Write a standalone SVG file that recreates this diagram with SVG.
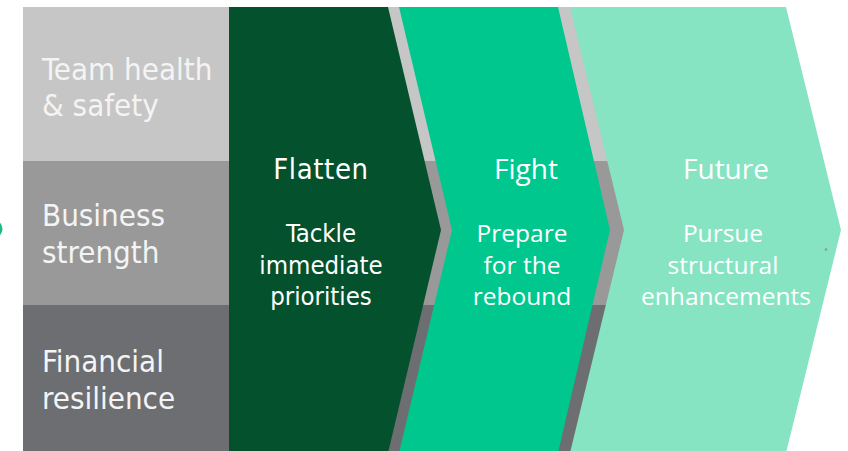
<svg xmlns="http://www.w3.org/2000/svg" width="848" height="451" viewBox="0 0 848 451">
  <style>
    .band-label { font-family: "DejaVu Sans Condensed", "DejaVu Sans", sans-serif; font-stretch: condensed; font-size: 31px; fill: #f4f4f4; }
    .flat-title { font-family: "DejaVu Sans Condensed", "DejaVu Sans", sans-serif; font-stretch: condensed; font-size: 29px; fill: #ffffff; text-anchor: middle; letter-spacing: 0.6px; }
    .flat-body { font-family: "DejaVu Sans Condensed", "DejaVu Sans", sans-serif; font-stretch: condensed; font-size: 25.5px; fill: #ffffff; text-anchor: middle; }
    .stage-title { font-family: "Open Sans", "Noto Sans", sans-serif; font-size: 28px; fill: #ffffff; text-anchor: middle; }
    .stage-body { font-family: "Open Sans", "Noto Sans", sans-serif; font-size: 24.5px; fill: #ffffff; text-anchor: middle; }
  </style>

  <rect width="848" height="451" fill="#ffffff"/>

  <!-- small partial mark at left edge -->
  <circle cx="-7" cy="229" r="9.5" fill="#1fb98c"/>

  <!-- horizontal priority bands -->
  <g id="band-health">
    <rect x="23" y="7" width="737" height="154" fill="#c6c6c6"/>
    <text class="band-label" x="42" y="80">Team health</text>
    <text class="band-label" x="42" y="116">&amp; safety</text>
  </g>
  <g id="band-business">
    <rect x="23" y="161" width="737" height="144" fill="#999999"/>
    <text class="band-label" x="42" y="226">Business</text>
    <text class="band-label" x="42" y="263">strength</text>
  </g>
  <g id="band-financial">
    <rect x="23" y="305" width="737" height="148" fill="#6d6e71"/>
    <text class="band-label" x="42" y="372">Financial</text>
    <text class="band-label" x="42" y="409">resilience</text>
  </g>

  <!-- stage chevrons -->
  <g id="stage-flatten">
    <polygon points="229,7 388,7 441,230 388,453 229,453" fill="#04512d"/>
    <text class="flat-title" x="321" y="179">Flatten</text>
    <text class="flat-body" x="321" y="242">Tackle</text>
    <text class="flat-body" x="321" y="274">immediate</text>
    <text class="flat-body" x="321" y="305">priorities</text>
  </g>
  <g id="stage-fight">
    <polygon points="399,7 558,7 610,230 558,453 399,453 452,230" fill="#00c78d"/>
    <text class="stage-title" x="526" y="179">Fight</text>
    <text class="stage-body" x="522" y="242">Prepare</text>
    <text class="stage-body" x="522" y="274">for the</text>
    <text class="stage-body" x="522" y="305">rebound</text>
  </g>
  <g id="stage-future">
    <polygon points="570,7 786,7 841,230 786,453 570,453 624,230" fill="#86e4c3"/>
    <text class="stage-title" x="726" y="179">Future</text>
    <text class="stage-body" x="723" y="242">Pursue</text>
    <text class="stage-body" x="723" y="274">structural</text>
    <text class="stage-body" x="726" y="305">enhancements</text>
    <circle cx="826" cy="249.5" r="1.3" fill="#8a9a94"/>
  </g>
</svg>
